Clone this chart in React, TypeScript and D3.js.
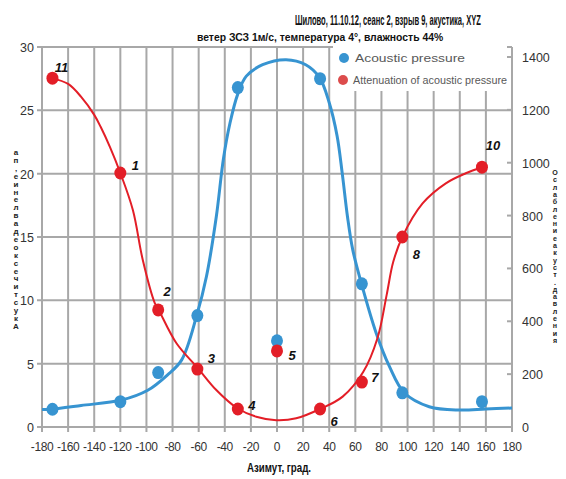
import React, { useLayoutEffect, useRef, useState } from "react";
import * as d3 from "d3";

// ---- Data ----
const azimuths = [-172, -120, -91, -61, -30, 0, 33, 65, 96, 157];
const pointLabels = ["11", "1", "2", "3", "4", "5", "6", "7", "8", "10"];
const acousticPressure = [1.4, 2.0, 4.3, 8.8, 26.8, 6.8, 27.5, 11.3, 2.7, 2.0];
const attenuation = [1320, 961, 443, 219, 68, 288, 68, 170, 719, 983];

// smoothed trend lines
const pressureCurveAz = [-180, -174, -150, -119, -99, -84, -73, -61.5, -54, -46.5, -41, -36, -30, -23.5, -11, 7, 22, 32.5, 40, 46, 50, 54, 58, 65, 76, 86, 97.5, 116.6, 139.5, 160, 180];
const pressureCurveVal = [1.38, 1.4, 1.7, 2.13, 2.9, 4.1, 5.3, 8.8, 11.9, 16.6, 21.2, 24.0, 26.3, 27.7, 28.6, 29.0, 28.6, 27.6, 25.6, 23.0, 20.0, 16.6, 14.0, 11.2, 7.4, 4.8, 2.7, 1.6, 1.34, 1.42, 1.5];
const attenCurveAz = [-172.4, -160, -150, -140, -135, -128, -120, -110.4, -102.8, -93.6, -90.6, -77, -60.5, -46.5, -30.4, -15.9, -0.6, 14.7, 33, 50.3, 66, 77, 84, 89, 96, 111.5, 129.3, 144.6, 157];
const attenCurveVal = [1320, 1298, 1249, 1181, 1135, 1060, 961, 821, 632, 469, 443, 317, 222, 140, 71, 39, 26, 33, 68, 115, 208, 337, 500, 624, 719, 846, 922, 960, 983];

const xTicks = d3.range(-180, 181, 20);
const leftTicks = [0, 5, 10, 15, 20, 25, 30];
const rightTicks = [0, 200, 400, 600, 800, 1000, 1200, 1400];

const title = "Шилово, 11.10.12,  сеанс 2,  взрыв 9,  акустика, XYZ";
const subtitle = "ветер ЗСЗ 1м/с, температура 4°, влажность 44%";
const xTitle = "Азимут, град.";
const leftTitle = "Акустическое давление, па";
const rightTitle = "Ослабление акуст. давления";
const legendItems = ["Acoustic pressure", "Attenuation of acoustic pressure"];

const BLUE = "#3794d1";
const RED = "#e31e27";
const GRID = "#a8a8a8";
const FONT = "'Liberation Sans', Arial, sans-serif";

// text squeezed horizontally to a given width (start anchored at x)
function FitText(props: { x: number; y: number; width: number; size: number; bold?: boolean; fill: string; children: string }) {
  const ref = useRef<SVGTextElement>(null);
  const [k, setK] = useState(0.5);
  useLayoutEffect(() => {
    if (ref.current) {
      const len = ref.current.getComputedTextLength();
      if (len > 0) setK(props.width / len);
    }
  }, [props.width, props.children]);
  return (
    <g transform={`translate(${props.x},${props.y}) scale(${k},1)`}>
      <text ref={ref} x={0} y={0} fontSize={props.size} fontWeight={props.bold ? "bold" : "normal"} fill={props.fill}>
        {props.children}
      </text>
    </g>
  );
}

export default function App() {
  const left = 42, right = 512, top = 47, bottom = 427;
  const x = d3.scaleLinear().domain([-180, 180]).range([left, right]);
  const yL = d3.scaleLinear().domain([0, 30]).range([bottom, top]);
  const yR = d3.scaleLinear().domain([0, 1400]).range([bottom, 57]);

  const blueLine = d3
    .line<number>()
    .x((_, i) => x(pressureCurveAz[i]))
    .y((d) => yL(d))
    .curve(d3.curveCatmullRom.alpha(0.5))(pressureCurveVal) as string;
  const redLine = d3
    .line<number>()
    .x((_, i) => x(attenCurveAz[i]))
    .y((d) => yR(d))
    .curve(d3.curveCatmullRom.alpha(0.5))(attenCurveVal) as string;

  const labelOffsets: [number, number][] = [
    [9, -11], [15, -8], [9, -19], [14, -11], [14, -4], [15, 4], [14, 12], [13, -5], [14, 17], [11, -22],
  ];

  const leftChars = Array.from(leftTitle.replace(/ /g, "")).reverse();
  const rightChars = Array.from(rightTitle.replace(/ /g, ""));

  return (
    <svg
      width={566}
      height={479}
      style={{ position: "absolute", left: 0, top: 0, background: "#fff" }}
      fontFamily={FONT}
    >
      <rect x={0} y={0} width={566} height={479} fill="#fff" />
      {/* gridlines */}
      {xTicks.map((t) => (
        <line key={"vx" + t} x1={x(t)} x2={x(t)} y1={top} y2={bottom + 5} stroke={GRID} strokeWidth={2} />
      ))}
      {leftTicks.map((t) => (
        <line key={"hy" + t} x1={left - 5} x2={right} y1={yL(t)} y2={yL(t)} stroke={GRID} strokeWidth={2} />
      ))}
      {/* right axis ticks */}
      {rightTicks.map((t) => (
        <line key={"ry" + t} x1={right - 5} x2={right + 1} y1={yR(t)} y2={yR(t)} stroke={GRID} strokeWidth={2} />
      ))}

      {/* legend box */}
      <rect x={333} y={44} width={174} height={47} fill="#fff" />
      <circle cx={344} cy={58} r={5} fill={BLUE} />
      <FitText x={355} y={62} width={110} size={11.5} fill="#595959">{legendItems[0]}</FitText>
      <circle cx={343} cy={80} r={5} fill="#dc4c4c" />
      <FitText x={353} y={84} width={154} size={11.5} fill="#595959">{legendItems[1]}</FitText>

      {/* curves */}
      <path d={blueLine} fill="none" stroke={BLUE} strokeWidth={3} />
      <path d={redLine} fill="none" stroke={RED} strokeWidth={2} />

      {/* points */}
      {azimuths.map((a, i) => (
        <ellipse key={"b" + i} cx={x(a)} cy={yL(acousticPressure[i])} rx={6} ry={6.5} fill={BLUE} />
      ))}
      {azimuths.map((a, i) => (
        <ellipse key={"r" + i} cx={x(a)} cy={yR(attenuation[i])} rx={6} ry={6.5} fill={RED} />
      ))}
      {azimuths.map((a, i) => (
        <text
          key={"l" + i}
          x={x(a) + labelOffsets[i][0]}
          y={yR(attenuation[i]) + labelOffsets[i][1] + 5}
          fontSize={13}
          fontWeight="bold"
          fontStyle="italic"
          textAnchor="middle"
          fill="#111"
        >
          {pointLabels[i]}
        </text>
      ))}

      {/* x tick labels */}
      {xTicks.map((t) => (
        <text key={"xt" + t} x={x(t)} y={451} fontSize={12} letterSpacing={-0.4} textAnchor="middle" fill="#333">
          {t}
        </text>
      ))}
      {leftTicks.map((t) => (
        <text key={"lt" + t} x={34} y={yL(t) + 5} fontSize={12.5} textAnchor="end" fill="#333">
          {t}
        </text>
      ))}
      {rightTicks.map((t) => (
        <text key={"rt" + t} x={522} y={yR(t) + 5} fontSize={12.5} textAnchor="start" fill="#333">
          {t}
        </text>
      ))}

      {/* titles */}
      <FitText x={295} y={25} width={186} size={15} bold fill="#111">{title}</FitText>
      <FitText x={197} y={41} width={246} size={11} bold fill="#111">{subtitle}</FitText>
      <FitText x={247} y={472} width={64} size={12} bold fill="#111">{xTitle}</FitText>

      {/* stacked axis titles */}
      {leftChars.map((c, i) => (
        <text key={"lc" + i} x={16} y={155 + i * 7.9} fontSize={8} fontWeight="bold" textAnchor="middle" fill="#222">
          {c}
        </text>
      ))}
      {rightChars.map((c, i) => (
        <text key={"rc" + i} x={555} y={175 + i * 7.3} fontSize={7.1} fontWeight="bold" textAnchor="middle" fill="#222">
          {c}
        </text>
      ))}
    </svg>
  );
}
